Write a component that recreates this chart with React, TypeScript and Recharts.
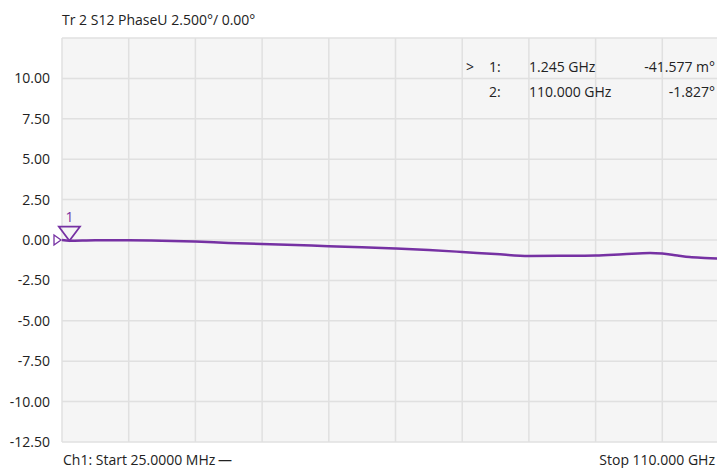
import { LineChart, Line, XAxis, YAxis, CartesianGrid, ReferenceDot } from 'recharts';

// S12 unwrapped phase trace (GHz, degrees)
const freqGHz = [0.025, 1.245, 5.5, 11.0, 16.5, 22.0, 27.5, 33.0, 38.5, 44.0, 49.5, 55.0, 60.5, 66.0, 71.5, 77.0, 82.5, 88.0, 92.5, 97.0, 99.0, 101.5, 103.5, 106.0, 108.0, 110.0];
const phaseDeg = [0.0, -0.04, -0.01, -0.01, -0.04, -0.1, -0.18, -0.25, -0.31, -0.38, -0.45, -0.53, -0.62, -0.74, -0.87, -0.99, -0.98, -0.96, -0.88, -0.8, -0.84, -0.96, -1.05, -1.11, -1.15, -1.2];

const yTicks = [-12.5, -10, -7.5, -5, -2.5, 0, 2.5, 5, 7.5, 10, 12.5];
const xGrid = [0.025, 11.0225, 22.02, 33.0175, 44.015, 55.0125, 66.01, 77.0075, 88.005, 99.0025, 110];

const markerFreq = [1.245, 110.0];
const markerLabels = ['1.245 GHz', '110.000 GHz'];
const markerValues = ['-41.577 m°', '-1.827°'];
const marker1Value = -0.041577;

const title = 'Tr 2 S12 PhaseU 2.500°/ 0.00°';
const startLabel = 'Ch1: Start 25.0000 MHz';
const stopLabel = 'Stop  110.000 GHz';

const TRACE = '#7631a3';
const TEXT = '#222';
const FONT = '"Open Sans", sans-serif';

const data = freqGHz.map((f, i) => ({ f, phase: phaseDeg[i] }));

const MarkerTriangle = (props: any) => {
    const { cx, cy } = props;
    return (
        <g>
            <polygon points={`${cx - 10.5},${cy - 14} ${cx + 10.5},${cy - 14} ${cx},${cy}`} fill="none" stroke={TRACE} strokeWidth={1.8} />
            <text x={cx} y={cy - 19} textAnchor="middle" fill={TRACE} fontSize={14} fontFamily={FONT}>1</text>
        </g>
    );
};

const RefTriangle = (props: any) => {
    const { cx, cy } = props;
    return <polygon points={`${cx - 8},${cy - 5} ${cx - 8},${cy + 5} ${cx - 1},${cy}`} fill="none" stroke={TRACE} strokeWidth={1.3} />;
};

export default function App() {
    return (
        <div style={{ position: 'fixed', left: 0, top: 0, width: 717, height: 468, overflow: 'hidden', background: '#fff' }}>
            <LineChart width={740} height={468} data={data} margin={{ top: 38, right: 11, bottom: 26, left: 0 }}>
                <CartesianGrid fill="#f5f5f5" stroke="#e0e0e0" strokeWidth={1.5} horizontalValues={yTicks} verticalValues={xGrid} />
                <XAxis dataKey="f" type="number" domain={[0.025, 110]} ticks={xGrid} hide />
                <YAxis
                    type="number"
                    domain={[-12.5, 12.5]}
                    ticks={yTicks}
                    width={62}
                    axisLine={false}
                    tickLine={false}
                    tickMargin={6}
                    interval={0}
                    tick={{ fill: TEXT, fontSize: 14, fontFamily: FONT }}
                    tickFormatter={(v: number) => (v >= 12.5 ? '' : v.toFixed(2))}
                />
                <Line type="monotone" dataKey="phase" stroke={TRACE} strokeWidth={2.5} dot={false} isAnimationActive={false} />
                <ReferenceDot x={freqGHz[0]} y={0} r={0} ifOverflow="visible" shape={RefTriangle} />
                <ReferenceDot x={markerFreq[0]} y={marker1Value} r={0} ifOverflow="visible" shape={MarkerTriangle} />
            </LineChart>
            <svg width={717} height={468} style={{ position: 'absolute', left: 0, top: 0, pointerEvents: 'none' }}>
                <g fontFamily={FONT} fontSize={14} fill={TEXT}>
                    <text x={62} y={25}>{title}</text>
                    <text x={466} y={72}>&gt;</text>
                    <text x={489} y={72}>1:</text>
                    <text x={529} y={72}>{markerLabels[0]}</text>
                    <text x={715} y={72} textAnchor="end">{markerValues[0]}</text>
                    <text x={489} y={97}>2:</text>
                    <text x={529} y={97}>{markerLabels[1]}</text>
                    <text x={715} y={97} textAnchor="end">{markerValues[1]}</text>
                    <text x={63} y={465}>{startLabel}</text>
                    <text x={218} y={465}>—</text>
                    <text x={715} y={465} textAnchor="end">{stopLabel}</text>
                </g>
            </svg>
        </div>
    );
}
